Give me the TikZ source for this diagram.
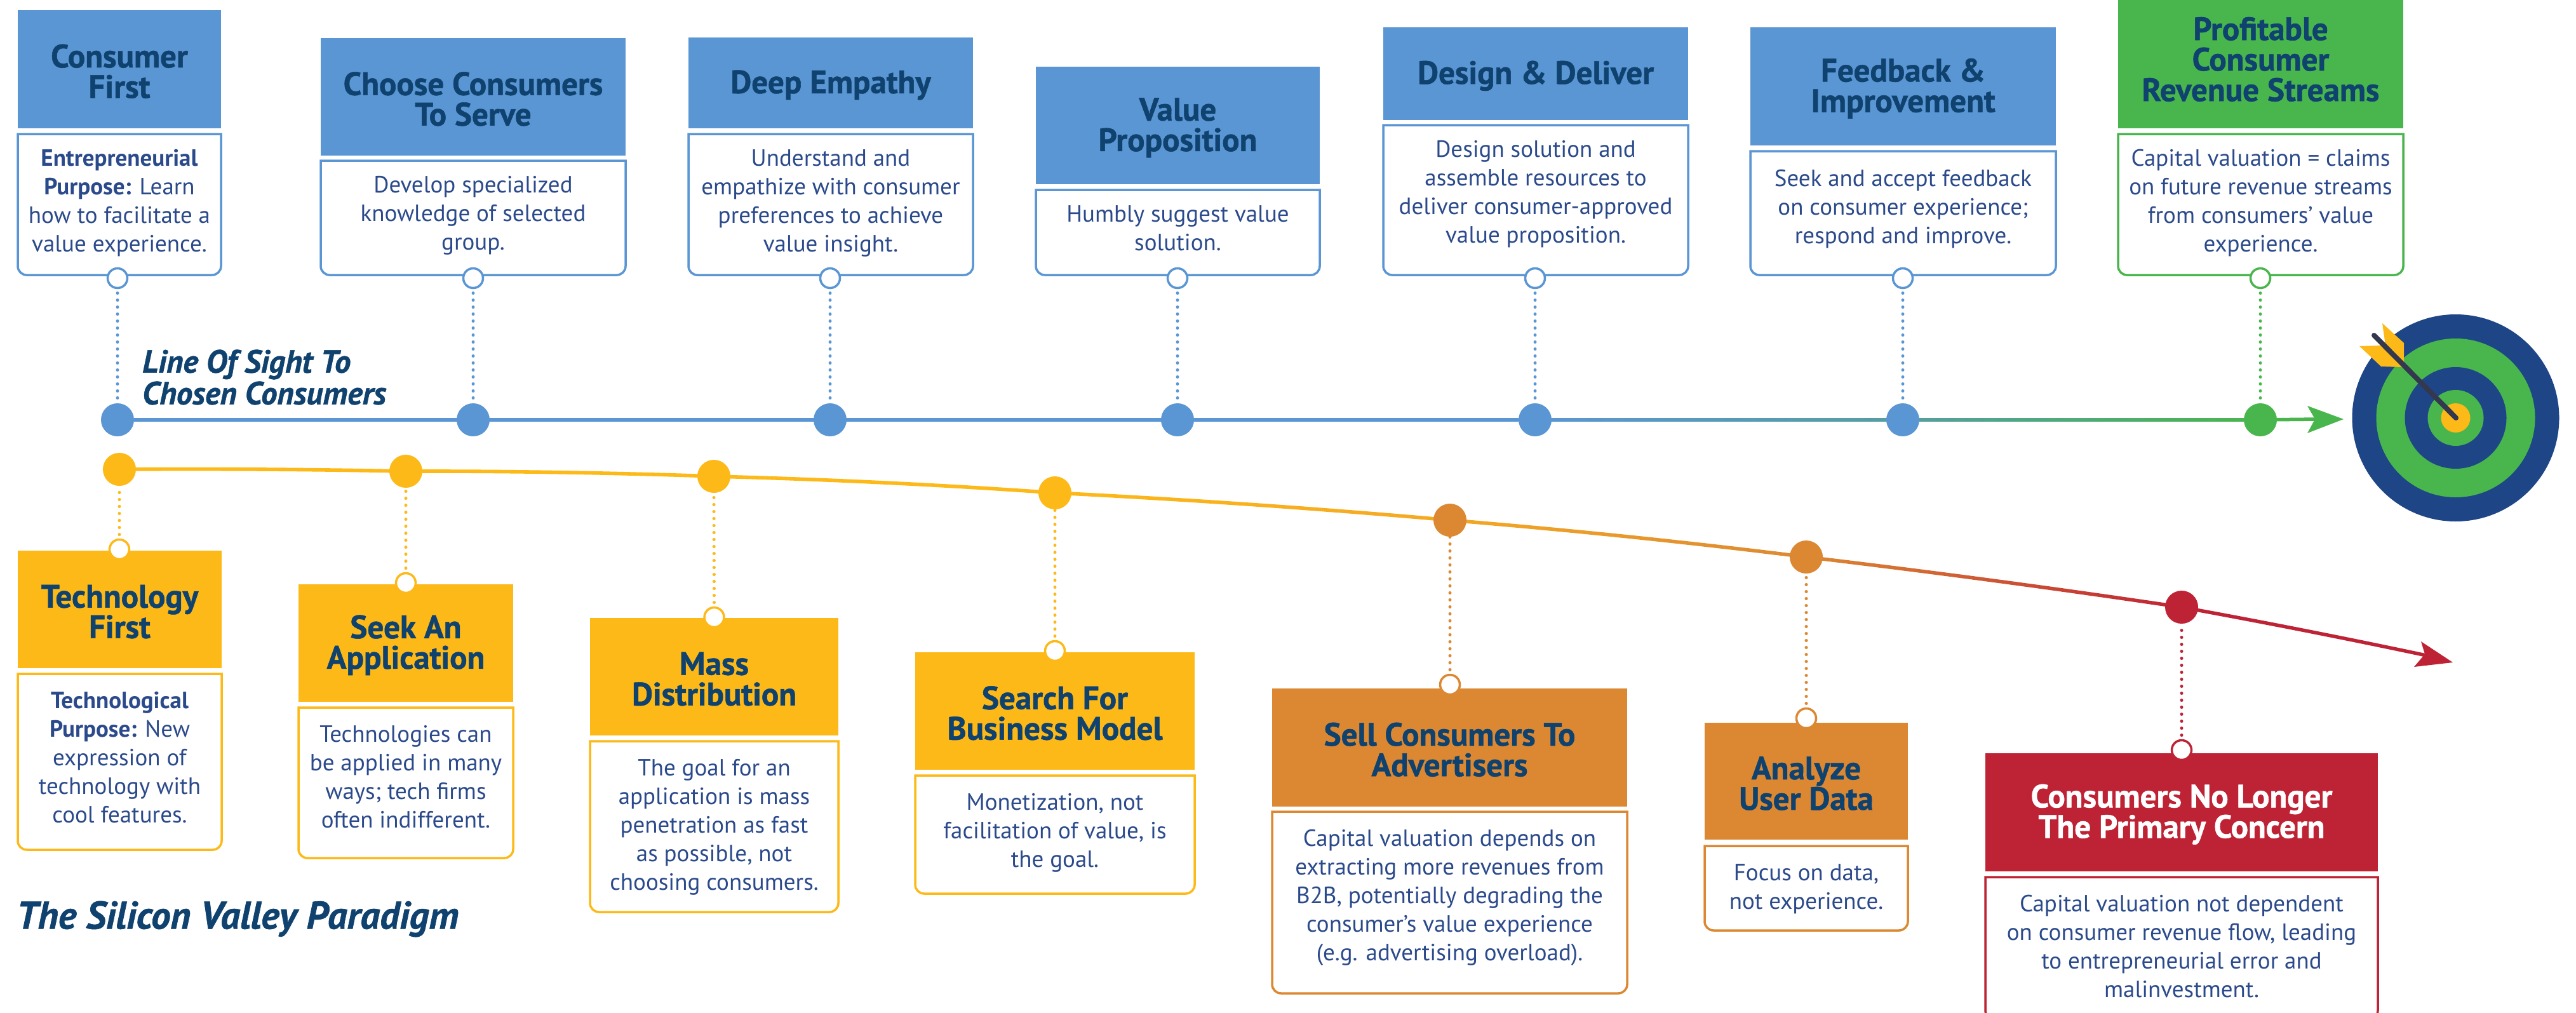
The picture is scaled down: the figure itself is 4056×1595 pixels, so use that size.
\documentclass[tikz,border=0pt]{standalone}
\usepackage{fontspec}
\usetikzlibrary{calc,backgrounds}
\setmainfont{PT Sans}
\newfontfamily\ttlfont[BoldFont=*,ItalicFont=* Italic,FakeBold=1.0]{PT Sans Bold}
\definecolor{cblue}{HTML}{5A96D3}
\definecolor{cgreen}{HTML}{49B64D}
\definecolor{cyellow}{HTML}{FDB917}
\definecolor{corange}{HTML}{DC8832}
\definecolor{cred}{HTML}{BE2335}
\definecolor{cmidorange}{HTML}{F4A824}
\definecolor{cteal}{HTML}{559E9F}
\definecolor{ctitle}{HTML}{0F426E}
\definecolor{cbody}{HTML}{2B4A8B}
\definecolor{cnavy}{HTML}{1E4687}
\definecolor{cshaft}{HTML}{33384E}
\newcommand{\toprule}{\rule{0pt}{50pt}}
\newcommand{\lowrule}{\rule{0pt}{54pt}}
\tikzset{
  hdrbox/.style={rectangle,inner sep=0pt,outer sep=0pt,align=center,text=ctitle,
    font=\ttlfont\fontsize{51}{48}\selectfont},
  bodytext/.style={inner sep=0pt,outer sep=0pt,align=center,text=cbody,
    font=\fontsize{37}{45}\selectfont},
  maindot/.style={circle,inner sep=0pt,outer sep=0pt,minimum size=52pt},
  ringdot/.style={circle,draw,fill=white,line width=3.5pt,inner sep=0pt,outer sep=0pt,minimum size=31pt},
  dotted link/.style={line width=5pt,line cap=round,dash pattern=on 0pt off 11pt},
  mainline/.style={line width=5.5pt}
}
\newcommand{\hdr}[7]{\node[hdrbox,fill=#6,minimum width={(#4-#2)*1pt},minimum height={(#5-#3)*1pt}] (#1) at ({(#2+#4)/2},{(#3+#5)/2}) {\rule{0pt}{43pt}#7};}
\newcommand{\bodybox}[7]{%
  \draw[draw=#6,line width=3.5pt,fill=white] (#2,#3) [rounded corners=14pt] -- (#2,#5) -- (#4,#5) [sharp corners] -- (#4,#3) -- cycle;
  \node[bodytext,anchor=north] (#1) at ({(#2+#4)/2},#3) {#7};}
% a b colA colB sag
\newcommand{\curveseg}[5]{%
  \shade[left color=#3,right color=#4]
   ($(#1)+(0,2.8)$) .. controls ($(#1)!.333!(#2)+(0,{2.8-#5})$) and ($(#1)!.667!(#2)+(0,{2.8-#5})$) .. ($(#2)+(0,2.8)$)
   -- ($(#2)+(0,-2.8)$) .. controls ($(#1)!.667!(#2)+(0,{-2.8-#5})$) and ($(#1)!.333!(#2)+(0,{-2.8-#5})$) .. ($(#1)+(0,-2.8)$) -- cycle;}
\begin{document}
\begin{tikzpicture}[x=1pt,y=-1pt]
\useasboundingbox (0,0) rectangle (4056,1595);
\clip (0,0) rectangle (4056,1595);

% ---- upper line dots
\node[maindot,fill=cblue] (d1) at (185,661) {};
\node[maindot,fill=cblue] (d2) at (745,661) {};
\node[maindot,fill=cblue] (d3) at (1307,661) {};
\node[maindot,fill=cblue] (d4) at (1854,661) {};
\node[maindot,fill=cblue] (d5) at (2417,661) {};
\node[maindot,fill=cblue] (d6) at (2996,661) {};
\node[maindot,fill=cgreen] (d7) at (3559,661) {};
\coordinate (gtip) at (3690,660);
% ---- lower line dots
\node[maindot,fill=cyellow] (e1) at (188,739) {};
\node[maindot,fill=cyellow] (e2) at (639,742) {};
\node[maindot,fill=cyellow] (e3) at (1124,750) {};
\node[maindot,fill=cyellow] (e4) at (1661,776) {};
\node[maindot,fill=corange] (e5) at (2283,819) {};
\node[maindot,fill=corange] (e6) at (2844,877) {};
\node[maindot,fill=cred] (e7) at (3435,956) {};
\coordinate (rtip) at (3825,1033);

\begin{scope}[on background layer]
  \fill[white] (0,0) rectangle (4056,1595);
  \draw[mainline,cblue] (d1) -- (d5);
  \shade[left color=cblue,right color=cteal] ($(d5)+(0,-2.8)$) rectangle ($(d6)+(0,2.8)$);
  \shade[left color=cteal,right color=cgreen] ($(d6)+(0,-2.8)$) rectangle ($(d7)+(0,2.8)$);
  \draw[mainline,cgreen] (d7) -- ($(gtip)+(-40,0)$);
  \curveseg{e1}{e2}{cyellow}{cyellow}{2}
  \curveseg{e2}{e3}{cyellow}{cyellow}{3}
  \curveseg{e3}{e4}{cyellow}{cyellow}{4}
  \curveseg{e4}{e5}{cyellow}{cmidorange}{4}
  \curveseg{e5}{e6}{cmidorange}{corange}{4}
  \curveseg{e6}{e7}{corange}{cred}{3}
  \curveseg{e7}{rtip}{cred}{cred}{2}
\end{scope}
% arrowheads
\fill[cgreen] (gtip) -- (3633,639) -- (3645,660) -- (3633,682) -- cycle;
\fill[cred] (3862,1043) -- (3812,1010) -- (3818,1030) -- (3801,1050) -- cycle;

% ---- upper cards
\hdr{h1}{28}{16}{348}{202}{cblue}{Consumer\\First}
\bodybox{b1}{28}{211}{348}{433}{cblue}{\toprule\textbf{Entrepreneurial}\\\textbf{Purpose:} Learn\\how to facilitate a\\value experience.}
\hdr{h2}{505}{60}{985}{245}{cblue}{Choose Consumers\\To Serve}
\bodybox{b2}{505}{253}{985}{433}{cblue}{\toprule Develop specialized\\knowledge of selected\\group.}
\hdr{h3}{1084}{59}{1532}{202}{cblue}{Deep Empathy}
\bodybox{b3}{1084}{211}{1532}{433}{cblue}{\toprule Understand and\\empathize with consumer\\preferences to achieve\\value insight.}
\hdr{h4}{1631}{105}{2078}{290}{cblue}{Value\\Proposition}
\bodybox{b4}{1631}{299}{2078}{433}{cblue}{\toprule Humbly suggest value\\solution.}
\hdr{h5}{2178}{43}{2658}{189}{cblue}{Design \& Deliver}
\bodybox{b5}{2178}{197}{2658}{433}{cblue}{\toprule Design solution and\\assemble resources to\\deliver consumer-approved\\value proposition.}
\hdr{h6}{2756}{43}{3237}{229}{cblue}{Feedback \&\\Improvement}
\bodybox{b6}{2756}{238}{3237}{433}{cblue}{\rule{0pt}{55pt}Seek and accept feedback\\on consumer experience;\\respond and improve.}
\hdr{h7}{3335}{-22}{3784}{202}{cgreen}{Profitable\\Consumer\\Revenue Streams}
\bodybox{b7}{3335}{211}{3784}{433}{cgreen}{\toprule Capital valuation = claims\\on future revenue streams\\from consumers’ value\\experience.}

\foreach \n/\x/\c in {1/185/cblue,2/745/cblue,3/1307/cblue,4/1854/cblue,5/2417/cblue,6/2996/cblue,7/3559/cgreen}{
  \node[ringdot,draw=\c] (c\n) at (\x,438) {};
  \draw[dotted link,\c,shorten <=8pt] (c\n.south) -- (d\n.north);
}

% ---- lower cards
\hdr{l1}{28}{867}{349}{1052}{cyellow}{Technology\\First}
\bodybox{m1}{28}{1061}{349}{1338}{cyellow}{\lowrule\textbf{Technological}\\\textbf{Purpose:} New\\expression of\\technology with\\cool features.}
\hdr{l2}{470}{920}{808}{1105}{cyellow}{Seek An\\Application}
\bodybox{m2}{470}{1114}{808}{1351}{cyellow}{\lowrule Technologies can\\be applied in many\\ways; tech firms\\often indifferent.}
\hdr{l3}{929}{973}{1320}{1158}{cyellow}{Mass\\Distribution}
\bodybox{m3}{929}{1167}{1320}{1436}{cyellow}{\lowrule The goal for an\\application is mass\\penetration as fast\\as possible, not\\choosing consumers.}
\hdr{l4}{1441}{1027}{1881}{1212}{cyellow}{Search For\\Business Model}
\bodybox{m4}{1441}{1221}{1881}{1407}{cyellow}{\lowrule Monetization, not\\facilitation of value, is\\the goal.}
\hdr{l5}{2003}{1084}{2562}{1270}{corange}{Sell Consumers To\\Advertisers}
\bodybox{m5}{2003}{1278}{2562}{1564}{corange}{\lowrule Capital valuation depends on\\extracting more revenues from\\B2B, potentially degrading the\\consumer’s value experience\\(e.g. advertising overload).}
\hdr{l6}{2684}{1138}{3004}{1322}{corange}{Analyze\\User Data}
\bodybox{m6}{2684}{1332}{3004}{1465}{corange}{\lowrule Focus on data,\\not experience.}
\hdr{l7}{3126}{1186}{3744}{1372}{cred}{\textcolor{white}{Consumers No Longer}\\\textcolor{white}{The Primary Concern}}
\bodybox{m7}{3126}{1381}{3744}{1605}{cred}{\lowrule Capital valuation not dependent\\on consumer revenue flow, leading\\to entrepreneurial error and\\malinvestment.}

\foreach \n/\x/\y/\c in {1/188/865/cyellow,2/639/918/cyellow,3/1124.5/972/cyellow,4/1661/1025/cyellow,5/2283/1078/corange,6/2844/1131/corange,7/3435/1181/cred}{
  \node[ringdot,draw=\c] (r\n) at (\x,\y) {};
  \draw[dotted link,\c,shorten <=8pt] (r\n.north) -- (e\n.south);
}

% ---- captions
\node[anchor=west,inner sep=0pt,align=left,text=ctitle,font=\ttlfont\itshape\fontsize{50.5}{50}\selectfont] (sight) at (224,594) {Line Of Sight To\\Chosen Consumers};
\node[anchor=west,inner sep=0pt,text=ctitle,font=\ttlfont\itshape\fontsize{61}{64}\selectfont] (paradigm) at (26,1447) {The Silicon Valley Paradigm};

% ---- target
\fill[cnavy] (3866.5,658) circle (163);
\fill[cgreen] (3866.5,658) circle (125);
\fill[cnavy] (3866.5,658) circle (80);
\fill[cgreen] (3866.5,658) circle (44);
\fill[cyellow] (3866.5,658) circle (23);
\fill[cyellow] (3751,509) -- (3785,540) -- (3785,572) -- (3756,544) -- cycle;
\fill[cyellow] (3715,545) -- (3752,544) -- (3782,578) -- (3749,577) -- cycle;
\draw[cshaft,line width=8pt,line cap=round] (3738,528) -- (3867,658);
\end{tikzpicture}
\end{document}
